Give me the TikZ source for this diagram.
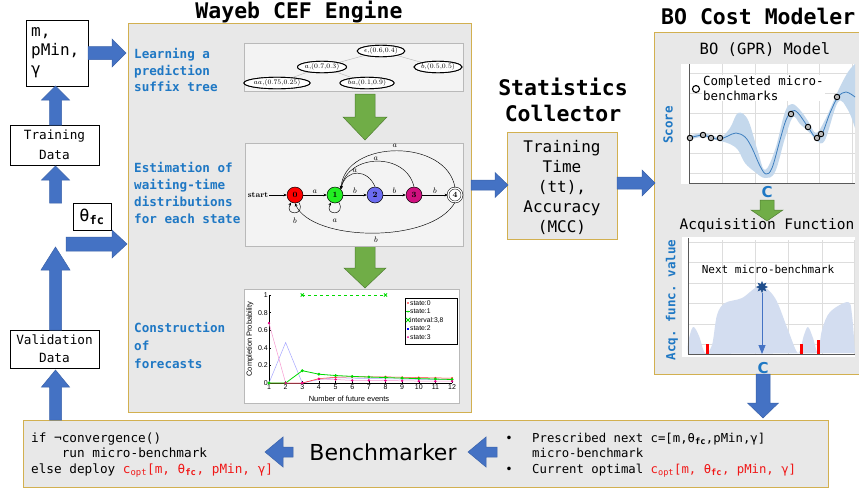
\documentclass[tikz,border=0pt]{standalone}
\usepackage{fontspec}
\setmonofont{DejaVu Sans Mono}
\setsansfont{DejaVu Sans}
\newfontfamily\arialf{Liberation Sans}
\usetikzlibrary{shapes.geometric,arrows.meta,shadows}
\definecolor{barrowc}{HTML}{4472C4}
\definecolor{barrowd}{HTML}{3A62AA}
\definecolor{garrowc}{HTML}{70AD47}
\definecolor{garrowd}{HTML}{507E32}
\definecolor{panelc}{HTML}{E8E8E8}
\definecolor{goldc}{HTML}{D2B050}
\definecolor{lbluec}{HTML}{1F78C4}
\definecolor{redc}{HTML}{F01818}
\definecolor{imgc}{HTML}{F3F3F3}
\definecolor{gridc}{HTML}{DDDDDD}
\definecolor{bandc}{HTML}{C4D8EC}
\definecolor{meanc}{HTML}{3D7EBE}
\definecolor{acqc}{HTML}{D3DDF0}
\definecolor{starc}{HTML}{1F4E8C}
\definecolor{sgreen}{HTML}{22EE22}
\definecolor{sblue}{HTML}{6B6BF0}
\definecolor{smag}{HTML}{D0107F}
\newcommand{\HArr}[7]{\draw[#1] (#2,{#4-#5}) -- ({#3-#7},{#4-#5}) -- ({#3-#7},{#4-#6}) -- (#3,#4) -- ({#3-#7},{#4+#6}) -- ({#3-#7},{#4+#5}) -- (#2,{#4+#5}) -- cycle;}
\newcommand{\VArr}[7]{\draw[#1] ({#4-#5},#2) -- ({#4-#5},{#3-#7}) -- ({#4-#6},{#3-#7}) -- (#4,#3) -- ({#4+#6},{#3-#7}) -- ({#4+#5},{#3-#7}) -- ({#4+#5},#2) -- cycle;}
\begin{document}
\begin{tikzpicture}[x=1pt,y=-1pt,
  panel/.style={fill=panelc, draw=goldc, line width=1pt},
  ba/.style={fill=barrowc, draw=barrowd, line width=0.5pt},
  ga/.style={fill=garrowc, draw=garrowd, line width=0.5pt},
  wbox/.style={draw=black, fill=white, line width=0.8pt, inner sep=0pt, align=center},
  ttl/.style={font=\ttfamily\bfseries\fontsize{21.5}{26}\selectfont, align=center, inner sep=0pt},
  lbl/.style={font=\ttfamily\bfseries\fontsize{12.6}{16.8}\selectfont, text=lbluec, align=left, anchor=west, inner sep=0pt},
  img/.style={fill=imgc, draw=gray!55, line width=0.5pt, drop shadow={shadow xshift=1.2pt, shadow yshift=-1.2pt, opacity=0.35}},
  pst/.style={ellipse, draw, line width=0.9pt, fill=white, inner xsep=0pt, inner ysep=0pt, minimum height=11.5, font=\fontsize{6.8}{7}\selectfont},
  stt/.style={circle, draw, line width=0.5pt, minimum size=16, inner sep=0pt, font=\bfseries\fontsize{8}{8}\selectfont},
  aut/.style={-{Stealth[length=3.2pt,width=2.8pt]}, line width=0.45pt},
  elab/.style={font=\fontsize{8}{8}\selectfont, inner sep=1pt},
  tk/.style={font=\arialf\fontsize{7}{8}\selectfont, inner sep=1pt},
  lg/.style={font=\arialf\fontsize{6.8}{7}\selectfont, inner sep=0pt, anchor=west},
  ylab/.style={rotate=90, font=\ttfamily\bfseries\fontsize{12.5}{14}\selectfont, text=lbluec, inner sep=0pt},
  cl/.style={font=\sffamily\bfseries\fontsize{15}{16}\selectfont, text=lbluec, inner sep=0pt},
  sub/.style={font=\ttfamily\fontsize{15.5}{18}\selectfont, inner sep=0pt},
  gpt/.style={circle, draw=black, fill=gray!55, line width=0.9pt, minimum size=5.5, inner sep=0pt}
]
\path[use as bounding box] (0,0) rectangle (859,496);
\fill[white] (0,0) rectangle (859,496);

% ---------- panels
\draw[panel] (128,23) rectangle (471,412);
\draw[panel] (507,132) rectangle (617,239);
\draw[panel] (654,32) rectangle (866,374);
\draw[panel] (23,420) rectangle (828,487);

% ---------- titles
\node[ttl] (tEng) at (299,12) {Wayeb CEF Engine};
\node[ttl] (tStat) at (563,100) {Statistics\\Collector};
\node[ttl, anchor=west] (tBO) at (661,16) {BO Cost Modeler};

% ---------- left column
\node[wbox, minimum width=62, minimum height=66] (mbox) at (57,53) {};
\node[anchor=west, align=left, inner sep=0pt, font=\ttfamily\fontsize{16}{19}\selectfont] (mtxt) at (31,53) {m,\\pMin,\\γ};
\node[wbox, minimum width=89, minimum height=40, font=\ttfamily\fontsize{12.7}{20}\selectfont] (train) at (54.5,145) {Training\\Data};
\node[wbox, minimum width=89, minimum height=38, font=\ttfamily\fontsize{12.7}{18}\selectfont] (valid) at (54.5,349) {Validation\\Data};
\node[wbox, minimum width=38, minimum height=27, font=\ttfamily\fontsize{17}{20}\selectfont] (theta) at (92,216.5) {θ\textsubscript{\textbf{fc}}};

\HArr{ba}{88}{126}{53}{6.5}{14}{14}
\VArr{ba}{125}{86}{55.5}{6}{14}{-14}
\VArr{ba}{203}{166}{55.5}{6}{14}{-14}
\HArr{ba}{66}{127}{244}{7}{14}{15}
\VArr{ba}{330}{247}{55.5}{6}{14.5}{-23}
\VArr{ba}{420}{370}{55.5}{6}{14}{-17}

% ---------- engine labels
\node[lbl] (lLearn) at (134,70) {Learning a\\prediction\\suffix tree};
\node[lbl] (lEst) at (134,193) {Estimation of\\waiting-time\\distributions\\for each state};
\node[lbl, font=\ttfamily\bfseries\fontsize{12.6}{18}\selectfont] (lCon) at (134,345) {Construction\\of\\forecasts};

% ---------- green arrows (behind images)
\VArr{ga}{94}{140}{365}{10}{22}{23}
\VArr{ga}{240}{288}{365}{10}{21}{20}

% ---------- suffix tree image
\draw[img] (244,43) rectangle (463,91);
\node[pst] (t0) at (381,51) {$\epsilon$,(0.6,0.4)};
\node[pst] (ta) at (322,67) {$a$,(0.7,0.3)};
\node[pst] (tb) at (438,67) {$b$,(0.5,0.5)};
\node[pst] (taa) at (277,83) {$aa$,(0.75,0.25)};
\node[pst] (tba) at (367,83) {$ba$,(0.1,0.9)};
\draw[gray!60, line width=0.4pt] (t0) -- (ta);
\draw[gray!60, line width=0.4pt] (t0) -- (tb);
\draw[gray!60, line width=0.4pt] (ta) -- (taa);
\draw[gray!60, line width=0.4pt] (ta) -- (tba);
\node[pst] (t0b) at (381,51) {$\epsilon$,(0.6,0.4)};
\node[pst] (tab) at (322,67) {$a$,(0.7,0.3)};
\node[pst] (tbb) at (438,67) {$b$,(0.5,0.5)};
\node[pst] (taab) at (277,83) {$aa$,(0.75,0.25)};
\node[pst] (tbab) at (367,83) {$ba$,(0.1,0.9)};

% ---------- automaton image
\draw[img] (245,143) rectangle (463,246);
\node[stt, fill=red] (s0) at (295,195) {0};
\node[stt, fill=sgreen] (s1) at (335,195) {1};
\node[stt, fill=sblue] (s2) at (375,195) {2};
\node[stt, fill=smag] (s3) at (414,195) {3};
\node[stt, fill=white, double, double distance=1.3pt, minimum size=14] (s4) at (455,195) {4};
\node[font=\bfseries\fontsize{8}{8}\selectfont, inner sep=1pt] (start) at (258,195) {start};
\draw[aut] (start) -- (s0);
\draw[aut] (s0) -- node[above, elab] (e01) {$a$} (s1);
\draw[aut] (s1) -- node[above, elab] (e12) {$b$} (s2);
\draw[aut] (s2) -- node[above, elab] (e23) {$b$} (s3);
\draw[aut] (s3) -- node[above, elab] (e34) {$b$} (s4);
\draw[aut] (299,202.5) .. controls (306,216) and (284,216) .. (291,202.5);
\node[elab] (l00) at (295,221) {$b$};
\draw[aut] (339,202.5) .. controls (346,216) and (324,216) .. (331,202.5);
\node[elab] (l11) at (335,221) {$a$};
\draw[aut] (s2.north) .. controls (368,169) and (346,168) .. (s1.north east);
\node[elab] (l21) at (355,171) {$a$};
\draw[aut] (s3.north) .. controls (406,152) and (348,153) .. (s1.north east);
\node[elab] (l31) at (376,159) {$a$};
\draw[aut] (s4.north) .. controls (447,138) and (345,139) .. (s1.north east);
\node[elab] (l41) at (395,146) {$a$};
\draw[aut] (s4.south) .. controls (432,244) and (312,242) .. (s0.south);
\node[elab] (l40) at (376,240) {$b$};

% ---------- forecast chart
\draw[img, fill=white] (244,289) rectangle (459,403);
\begin{scope}[shift={(269,383)}, x=16.64pt, y=88pt]
  \draw[line width=0.4pt] (0,0) -- (11,0);
  \draw[line width=0.4pt] (0,0) -- (0,1);
  \foreach \i in {0,...,11}{
    \pgfmathtruncatemacro{\lab}{\i+1}
    \draw[line width=0.3pt] (\i,0) -- (\i,0.025);
    \node[tk, below] (xt\i) at (\i,0) {\lab};
  }
  \foreach \v/\t in {0/0,0.2/0.2,0.4/0.4,0.6/0.6,0.8/0.8,1/1}{
    \draw[line width=0.3pt] (0,\v) -- (0.15,\v);
    \node[tk, left] (yt\t) at (0,\v) {\t};
  }
  \draw[blue!35, line width=0.5pt] plot coordinates {(0,0)(1,0.46)(2,0)(3,0.04)(4,0.06)(5,0.055)(6,0.05)(7,0.048)(8,0.045)(9,0.042)(10,0.04)(11,0.038)};
  \draw[magenta!40, line width=0.5pt] plot coordinates {(0,0.68)(1,0)(2,0)(3,0.045)(4,0.04)(5,0.03)(6,0.03)(7,0.028)(8,0.025)(9,0.022)(10,0.02)(11,0.02)};
  \draw[red!80, line width=0.5pt, mark=*, mark size=0.8pt] plot coordinates {(0,0)(1,0)(2,0)(3,0.05)(4,0.065)(5,0.07)(6,0.07)(7,0.07)(8,0.065)(9,0.062)(10,0.058)(11,0.055)};
  \draw[green!85!black, line width=0.8pt, mark=*, mark size=1pt] plot coordinates {(0,0)(1,0)(2,0.14)(3,0.1)(4,0.085)(5,0.075)(6,0.068)(7,0.062)(8,0.055)(9,0.05)(10,0.045)(11,0.04)};
  \path[mark=square*, mark size=1pt, mark options={blue}] plot coordinates {(0,0)(1,0.46)(2,0)(3,0.04)(4,0.06)(5,0.055)(6,0.05)(7,0.048)(8,0.045)(9,0.042)(10,0.04)(11,0.038)};
  \path[mark=*, mark size=1pt, mark options={magenta}] plot coordinates {(0,0.68)(1,0)(2,0)(3,0.045)(4,0.04)(5,0.03)(6,0.03)(7,0.028)(8,0.025)(9,0.022)(10,0.02)(11,0.02)};
  \draw[green!85!black, dashed, line width=0.8pt] (2,1) -- (7,1);
  \path[mark=x, mark size=2.2pt, mark options={green!85!black, line width=0.9pt, solid}] plot coordinates {(2,1)(7,1)};
\end{scope}
\node[tk, rotate=90, font=\arialf\fontsize{7.5}{8}\selectfont] (ylabC) at (250,339) {Completion Probability};
\node[tk, font=\arialf\fontsize{7.5}{8}\selectfont] (xlabC) at (349,399) {Number of future events};
\draw[fill=white, line width=0.6pt] (405,298) rectangle (457,344);
\fill[red] (408,303) circle (0.9pt);
\node[lg] (lg0) at (410,303) {state:0};
\draw[green!85!black, line width=0.8pt] (406,311.5) -- (410,311.5); \fill[green!85!black] (408,311.5) circle (1pt);
\node[lg] (lg1) at (410,311.5) {state:1};
\draw[green!85!black, line width=0.8pt] (406,318) -- (410,322) (406,322) -- (410,318);
\node[lg] (lg2) at (410,320) {interval:3,8};
\fill[blue] (407,327.5) rectangle (409,329.5);
\node[lg] (lg3) at (410,328.5) {state:2};
\fill[magenta] (408,337) circle (1pt);
\node[lg] (lg4) at (410,337) {state:3};

% ---------- engine -> stats
\HArr{ba}{471}{508}{185}{5}{12.5}{13}
\node[font=\ttfamily\fontsize{16}{20}\selectfont, align=center, inner sep=0pt] (stx) at (562,187) {Training\\Time\\(tt),\\Accuracy\\(MCC)};
\HArr{ba}{617}{655}{183}{6}{13}{13}

% ---------- BO model plot
\node[sub] (tGPR) at (765,50) {BO (GPR) Model};
\fill[white] (681,64) rectangle (855,184);
\foreach \gx in {722,755,787,819,852} \draw[gridc, line width=0.5pt] (\gx,64) -- (\gx,183);
\foreach \gy in {73,93,113,133,153,173} \draw[gridc, line width=0.5pt] (689,\gy) -- (855,\gy);
\fill[bandc] plot[smooth, tension=0.6] coordinates {(689,136)(703,133)(720,137)(730,128)(738,113)(748,120)(758,152)(765,170)(775,150)(785,112)(792,104)(800,110)(808,121)(816,133)(825,120)(838,91)(848,72)(855,64)}
  -- plot[smooth, tension=0.6] coordinates {(855,128)(848,110)(838,102)(825,140)(817,141)(810,133)(800,124)(793,117)(785,138)(775,172)(765,178)(755,172)(745,163)(738,150)(730,144)(720,141)(703,137)(689,140)} -- cycle;
\draw[meanc, line width=0.8pt] plot[smooth, tension=0.6] coordinates {(689,138)(703,135)(711,138)(720,139)(728,136)(736,133)(745,137)(752,148)(760,166)(766,174)(772,168)(780,140)(786,120)(792,111)(798,113)(808,127)(816,138)(822,134)(830,113)(838,97)(846,92)(855,97)};
\draw[gray!70!black, line width=0.6pt] (689,64) -- (689,183) -- (855,183);
\foreach \px/\py [count=\k] in {690/138,703/135,711/138,720/138,791/114,808/127,817/138,821/134,837/97}
  \node[gpt] (gp\k) at (\px,\py) {};
\node[anchor=west, align=left, inner sep=1pt, fill=white, font=\ttfamily\fontsize{12.5}{15}\selectfont] (tCompl) at (702,88) {Completed micro-\\benchmarks};
\node[circle, draw=black, line width=1.1pt, minimum width=7, minimum height=6, inner sep=0pt] (legpt) at (696,89) {};
\node[ylab] (yScore) at (668,125) {Score};
\node[cl] (cx1) at (767,192) {C};

\VArr{ga}{200}{221}{767}{7}{16}{11}

% ---------- acquisition plot
\node[sub, font=\ttfamily\fontsize{14.5}{18}\selectfont] (tAcq) at (767,226) {Acquisition Function};
\fill[white] (682,237) rectangle (855,357);
\foreach \gx in {722,755,788,822,854} \draw[gridc, line width=0.5pt] (\gx,240) -- (\gx,354);
\foreach \gy in {242,262,283,303,324,344} \draw[gridc, line width=0.5pt] (688,\gy) -- (855,\gy);
\fill[acqc] plot[smooth, tension=0.55] coordinates {(688,354)(688,343)(693,327)(699,336)(705,353)(712,345)(717,315)(725,303)(742,298)(760,286)(775,298)(788,330)(798,353)(804,335)(808,327)(813,338)(818,353)(822,330)(830,312)(848,302)(852,315)(855,353)} -- cycle;
\draw[gray!70!black, line width=0.6pt] (688,238) -- (688,354) -- (855,354);
\fill[red] (705.5,344) rectangle (708.5,354);
\fill[red] (799.5,344) rectangle (802.5,354);
\fill[red] (816.5,340) rectangle (819.5,354);
\node[star, star points=8, star point ratio=1.9, fill=starc, draw=starc, minimum size=11, inner sep=0pt] (nstar) at (762,287) {};
\coordinate (cbot) at (762,354);
\draw[-{Triangle[length=9pt,width=7pt]}, draw=barrowc, fill=barrowc, line width=0.8pt] (nstar) -- (cbot);
\node[font=\ttfamily\fontsize{11}{13}\selectfont, inner sep=0pt] (tNext) at (768,269) {Next micro-benchmark};
\node[ylab] (yAcq) at (672,300) {Acq. func. value};
\node[cl] (cx2) at (763,368) {C};

\VArr{ba}{374}{418}{763}{7}{15.5}{15}

% ---------- benchmarker
\node[anchor=west, align=left, inner sep=0pt, font=\ttfamily\fontsize{12.7}{15.5}\selectfont] (code) at (31,455) {if ¬convergence()\\\hspace*{30.6pt}run micro-benchmark\\else deploy \textcolor{redc}{c\textsubscript{opt}[m, θ\textsubscript{\textbf{fc}}, pMin, γ]}};
\HArr{ba}{293}{265}{452}{5}{15}{-18}
\node[font=\sffamily\fontsize{22}{26}\selectfont, inner sep=0pt] (bm) at (383,452) {Benchmarker};
\HArr{ba}{497}{468}{452}{5}{15}{-18}
\node[font=\ttfamily\fontsize{12.3}{15.5}\selectfont, inner sep=0pt] (b1) at (509,439) {•};
\node[font=\ttfamily\fontsize{12.3}{15.5}\selectfont, inner sep=0pt] (b2) at (509,470) {•};
\node[anchor=west, align=left, inner sep=0pt, font=\ttfamily\fontsize{12.3}{15.5}\selectfont] (btxt) at (532,455) {Prescribed next c=[m,θ\textsubscript{\textbf{fc}},pMin,γ]\\micro-benchmark\\Current optimal \textcolor{redc}{c\textsubscript{opt}[m, θ\textsubscript{\textbf{fc}}, pMin, γ]}};
\end{tikzpicture}
\end{document}
